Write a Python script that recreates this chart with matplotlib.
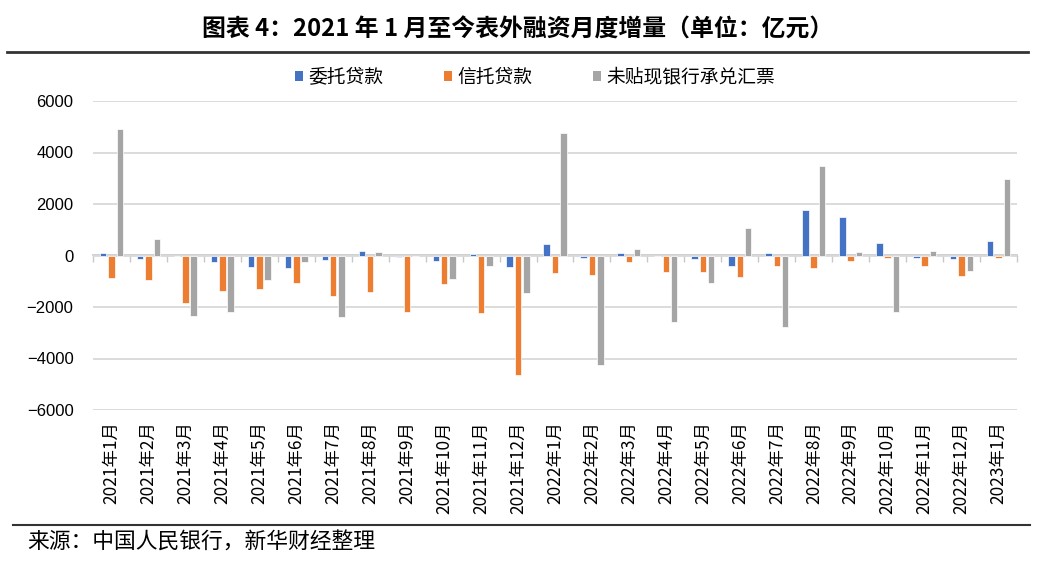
import numpy as np
import matplotlib
matplotlib.use("Agg")
import matplotlib.pyplot as plt
from matplotlib.patches import Patch
from matplotlib.lines import Line2D

plt.rcParams['font.family'] = ['Noto Sans CJK SC', 'DejaVu Sans']

# === 数据 (亿元) ===
months = ["2021年1月", "2021年2月", "2021年3月", "2021年4月", "2021年5月",
          "2021年6月", "2021年7月", "2021年8月", "2021年9月", "2021年10月",
          "2021年11月", "2021年12月", "2022年1月", "2022年2月", "2022年3月",
          "2022年4月", "2022年5月", "2022年6月", "2022年7月", "2022年8月",
          "2022年9月", "2022年10月", "2022年11月", "2022年12月", "2023年1月"]
entrusted = [90, -130, -30, -250, -430, -480, -170, 160, -40, -200,
             40, -430, 430, -90, 80, -10, -140, -390, 80, 1750,
             1500, 470, -100, -130, 580]
trust = [-860, -950, -1830, -1360, -1320, -1070, -1590, -1400, -2180, -1100,
         -2220, -4640, -690, -770, -270, -640, -640, -850, -420, -480,
         -210, -90, -390, -800, -90]
bankers = [4920, 630, -2340, -2180, -960, -250, -2370, 120, -20, -920,
           -420, -1450, 4760, -4270, 270, -2580, -1080, 1070, -2770, 3490,
           120, -2180, 180, -590, 2980]

series_names = ["委托贷款", "信托贷款", "未贴现银行承兑汇票"]
colors = ["#4472C4", "#ED7D31", "#A5A5A5"]

# === 图 ===
fig = plt.figure(figsize=(10.58, 5.70), dpi=100)
ax = fig.add_axes([93 / 1058, 1 - 410 / 570, (1017 - 93) / 1058, (410 - 101) / 570])

x = np.arange(len(months))
w = 0.175
step = 0.225
for i, (vals, c) in enumerate(zip([entrusted, trust, bankers], colors)):
    ax.bar(x + (i - 1) * step, vals, width=w, color=c, edgecolor="white",
           linewidth=0.5, zorder=3)

ax.set_xlim(-0.5, len(months) - 0.5)
ax.set_ylim(-6000, 6000)
ax.set_yticks(np.arange(-6000, 6001, 2000))
ax.grid(axis="y", color="#d9d9d9", lw=1.3, zorder=0)
for s in ax.spines.values():
    s.set_visible(False)

ax.set_xticks(x)
ax.set_xticklabels(months, rotation=90, fontsize=12.5, va="top", ha="center")
ax.tick_params(axis="x", length=0, pad=8)
ax.tick_params(axis="y", length=0, pad=14, labelsize=12)
for t in ax.get_yticklabels():
    t.set_fontfamily(['Liberation Sans', 'DejaVu Sans'])

# 零轴及刻度
sec = ax.secondary_xaxis(0.5)
sec.set_xticks(np.arange(-0.5, len(months), 1))
sec.set_xticklabels([])
sec.tick_params(axis="x", length=5, color="#c8c8c8", width=1, direction="in")
for s in sec.spines.values():
    s.set_color("#c8c8c8")
    s.set_linewidth(1.2)
    s.set_zorder(4)

# === 图例 ===
handles = [Patch(facecolor=c, edgecolor="none") for c in colors]
fig.legend(handles, series_names, loc="center", bbox_to_anchor=(535 / 1058, 1 - 77 / 570),
           ncol=3, frameon=False, fontsize=13.5, handlelength=0.45, handleheight=0.45,
           handletextpad=0.3, columnspacing=3.2)

# === 标题 / 来源 ===
fig.text(518 / 1058, 1 - 30 / 570, "图表 4：2021 年 1 月至今表外融资月度增量（单位：亿元）",
         ha="center", va="center", fontsize=17.2, fontweight="bold")
fig.add_artist(Line2D([7 / 1058, 1028 / 1058], [1 - 52 / 570] * 2, color="#333333", lw=2))
fig.add_artist(Line2D([13 / 1058, 1030 / 1058], [1 - 525 / 570] * 2, color="#333333", lw=1.5))
fig.text(27 / 1058, 1 - 543 / 570, "来源：中国人民银行，新华财经整理",
         ha="left", va="center", fontsize=15.7)

fig.savefig("out.png", dpi=100)
